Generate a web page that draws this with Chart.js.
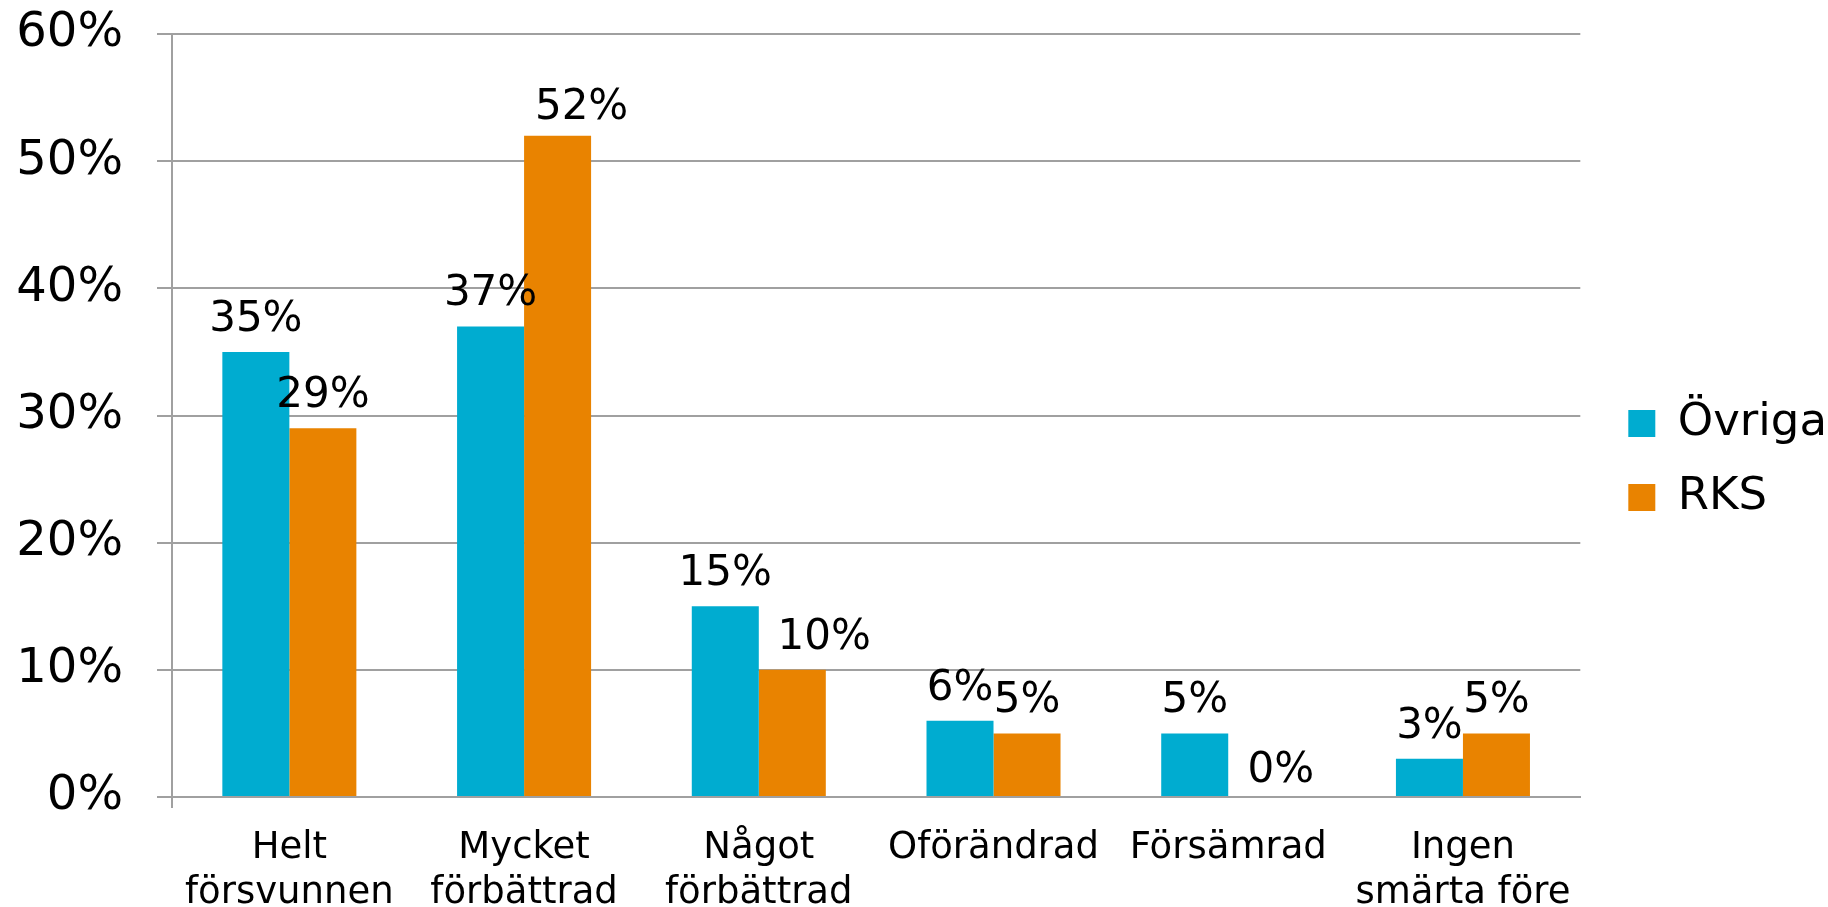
<!doctype html>
<html lang="sv">
<head>
<meta charset="utf-8">
<title>Smärta efter behandling - Övriga / RKS</title>
<script src="https://cdn.jsdelivr.net/npm/chart.js"></script>
<style>
  html, body { margin: 0; padding: 0; background: #fff; }
</style>
</head>
<body>
<canvas id="myChart" width="1828" height="907"></canvas>
<script>
// data
var categories = [["Helt", "försvunnen"], ["Mycket", "förbättrad"], ["Något", "förbättrad"], "Oförändrad", "Försämrad", ["Ingen", "smärta före"]];
var ovriga = [35, 37, 15, 6, 5, 3];
var rks = [29, 52, 10, 5, 0, 5];
var seriesNames = ["Övriga", "RKS"];
var yTicks = [0, 10, 20, 30, 40, 50, 60];

var FONT = '"DejaVu Sans", Verdana, sans-serif';
var GRID = '#a0a0a0';

// a few labels were dragged aside in the original ("dataset,index": [dx, dy])
var labelNudge = { "1,1": [24, 4], "1,2": [32, 0], "1,4": [19, 6] };

// percent labels above each bar
var barLabels = {
    id: 'barLabels',
    afterDatasetsDraw: function (chart) {
        var ctx = chart.ctx;
        ctx.save();
        ctx.font = '42px ' + FONT;
        ctx.fillStyle = '#000';
        ctx.textAlign = 'center';
        ctx.textBaseline = 'alphabetic';
        chart.data.datasets.forEach(function (ds, i) {
            chart.getDatasetMeta(i).data.forEach(function (bar, j) {
                var n = labelNudge[i + ',' + j] || [0, 0];
                ctx.fillText(ds.data[j] + '%', bar.x + n[0], bar.y - 21 + n[1]);
            });
        });
        ctx.restore();
    }
};

// move the legend a little, the plot edge stays where it is
var legendNudge = {
    id: 'legendNudge',
    afterLayout: function (chart) {
        var lg = chart.legend;
        lg.left += 19; lg.right += 19;
        lg.top -= 10; lg.bottom -= 10;
    }
};

new Chart("myChart", {
    type: "bar",
    data: {
        labels: categories,
        datasets: [{
            label: seriesNames[0],
            data: ovriga,
            backgroundColor: '#00acd0'
        }, {
            label: seriesNames[1],
            data: rks,
            backgroundColor: '#e98300'
        }]
    },
    options: {
        responsive: false,
        animation: false,
        devicePixelRatio: 1,
        layout: { padding: { top: 34, left: 0, right: 10, bottom: 0 } },
        datasets: {
            bar: { categoryPercentage: 0.571, barPercentage: 1.0 }
        },
        plugins: {
            tooltip: { enabled: false },
            legend: {
                position: 'right',
                labels: {
                    color: '#000',
                    font: { family: FONT, size: 45 },
                    boxWidth: 27,
                    boxHeight: 27,
                    padding: 29
                }
            }
        },
        scales: {
            x: {
                afterFit: function (s) { s.height = 110; },
                grid: {
                    drawOnChartArea: false,
                    tickLength: 11,
                    lineWidth: 2,
                    color: function (c) { return c.index === 0 ? GRID : 'rgba(0,0,0,0)'; }
                },
                border: { color: GRID, width: 2 },
                ticks: {
                    color: '#000',
                    font: { family: FONT, size: 37, lineHeight: 1.22 },
                    maxRotation: 0,
                    autoSkip: false,
                    padding: 18
                }
            },
            y: {
                min: yTicks[0],
                max: yTicks[yTicks.length - 1],
                afterFit: function (s) {
                    s.width = 172;
                    s.paddingTop = 0;
                    s.paddingBottom = 0;
                },
                grid: { color: GRID, lineWidth: 2, tickLength: 15 },
                border: { color: GRID, width: 2 },
                ticks: {
                    stepSize: yTicks[1] - yTicks[0],
                    color: '#000',
                    font: { family: FONT, size: 48 },
                    padding: 34,
                    callback: function (v) { return v + '%'; }
                }
            }
        }
    },
    plugins: [barLabels, legendNudge]
});
</script>
</body>
</html>
